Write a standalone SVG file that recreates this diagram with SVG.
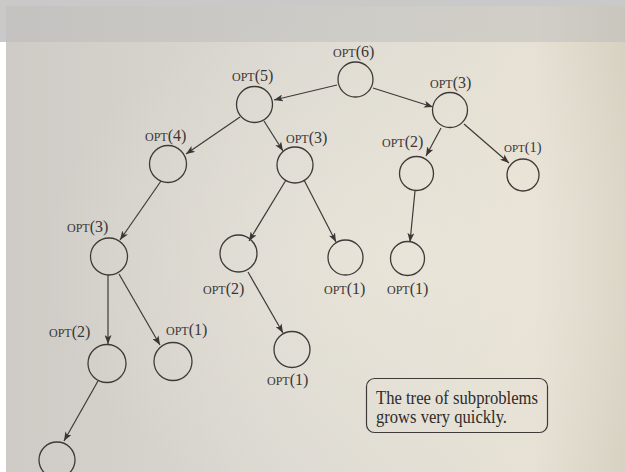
<svg xmlns="http://www.w3.org/2000/svg" width="625" height="472" viewBox="0 0 625 472">
  <defs>
    <linearGradient id="page" x1="0" y1="0" x2="1" y2="0">
      <stop offset="0" stop-color="#cecbc6"/>
      <stop offset="0.45" stop-color="#dcd9d2"/>
      <stop offset="0.85" stop-color="#e6e1d4"/>
      <stop offset="1" stop-color="#d8d2c3"/>
    </linearGradient>
    <radialGradient id="glow" cx="0.62" cy="0.55" r="0.55">
      <stop offset="0" stop-color="#efeadd" stop-opacity="0.55"/>
      <stop offset="1" stop-color="#efeadd" stop-opacity="0"/>
    </radialGradient>
    <marker id="arrow" viewBox="0 0 9 7" refX="9" refY="3.5" markerWidth="9" markerHeight="7" markerUnits="userSpaceOnUse" orient="auto">
      <path d="M0,0 L9,3.5 L0,7 L2.2,3.5 z" fill="#3a3634"/>
    </marker>
  </defs>
  <style>
    .node circle { fill: none; stroke: #3e3a37; stroke-width: 1.3; }
    .lbl { font-family: "Liberation Serif", "DejaVu Serif", serif; fill: #3a3634; }
    .sc { font-size: 12px; }
    .arg { font-size: 16px; }
    #edges line { stroke: #3e3a37; stroke-width: 1.2; marker-end: url(#arrow); }
    .note { font-family: "Liberation Serif", "DejaVu Serif", serif; font-size: 19px; fill: #2f2b29; }
  </style>

  <!-- page background -->
  <rect x="0" y="0" width="625" height="472" fill="url(#page)"/>
  <rect x="0" y="0" width="625" height="472" fill="url(#glow)"/>
  <!-- window frame: grey strip along the top, white margin on the left -->
  <rect x="0" y="6" width="625" height="36" fill="#b9b9b9" opacity="0.45"/>
  <rect x="0" y="0" width="625" height="6" fill="#c9c9c9"/>
  <rect x="0" y="0" width="6" height="42" fill="#c9c9c9"/>
  <rect x="0" y="42" width="6" height="430" fill="#ffffff"/>

  <!-- connectors -->
  <g id="edges">
    <line x1="337" y1="85" x2="274" y2="100"/>
    <line x1="373" y1="88" x2="433" y2="107"/>
    <line x1="240" y1="117" x2="186" y2="154"/>
    <line x1="264" y1="121" x2="283" y2="151"/>
    <line x1="441" y1="128" x2="426" y2="156"/>
    <line x1="464" y1="124" x2="509" y2="163"/>
    <line x1="161" y1="181" x2="120" y2="240"/>
    <line x1="286" y1="180" x2="249" y2="241"/>
    <line x1="304" y1="180" x2="336" y2="242"/>
    <line x1="415" y1="191" x2="410" y2="242"/>
    <line x1="108" y1="275" x2="108" y2="344"/>
    <line x1="119" y1="274" x2="160" y2="345"/>
    <line x1="248" y1="272" x2="283" y2="333"/>
    <line x1="98" y1="381" x2="64" y2="441"/>
  </g>

  <!-- nodes -->
  <g id="n6" class="node">
    <circle cx="355.5" cy="79.5" r="17.5"/>
    <text class="lbl" x="333" y="57"><tspan class="sc">OPT</tspan><tspan class="arg">(6)</tspan></text>
  </g>
  <g id="n5" class="node">
    <circle cx="254.5" cy="104.5" r="18"/>
    <text class="lbl" x="232" y="81"><tspan class="sc">OPT</tspan><tspan class="arg">(5)</tspan></text>
  </g>
  <g id="n3a" class="node">
    <circle cx="450" cy="110" r="17.5"/>
    <text class="lbl" x="430" y="88"><tspan class="sc">OPT</tspan><tspan class="arg">(3)</tspan></text>
  </g>
  <g id="n4" class="node">
    <circle cx="168" cy="164" r="18.5"/>
    <text class="lbl" x="145" y="141"><tspan class="sc">OPT</tspan><tspan class="arg">(4)</tspan></text>
  </g>
  <g id="n3b" class="node">
    <circle cx="295" cy="165" r="18"/>
    <text class="lbl" x="286" y="143"><tspan class="sc">OPT</tspan><tspan class="arg">(3)</tspan></text>
  </g>
  <g id="n2a" class="node">
    <circle cx="416.5" cy="173.5" r="17"/>
    <text class="lbl" x="382" y="147"><tspan class="sc">OPT</tspan><tspan class="arg">(2)</tspan></text>
  </g>
  <g id="n1a" class="node">
    <circle cx="523" cy="175" r="16"/>
    <text class="lbl" x="504" y="152"><tspan class="sc" style="font-size:11px">OPT</tspan><tspan class="arg" style="font-size:14.5px">(1)</tspan></text>
  </g>
  <g id="n3c" class="node">
    <circle cx="109" cy="256.5" r="18.5"/>
    <text class="lbl" x="67" y="232"><tspan class="sc">OPT</tspan><tspan class="arg">(3)</tspan></text>
  </g>
  <g id="n2b" class="node">
    <circle cx="238.5" cy="253.5" r="18.5"/>
    <text class="lbl" x="203" y="294"><tspan class="sc">OPT</tspan><tspan class="arg">(2)</tspan></text>
  </g>
  <g id="n1b" class="node">
    <circle cx="345.5" cy="257.5" r="17.5"/>
    <text class="lbl" x="324" y="294"><tspan class="sc">OPT</tspan><tspan class="arg">(1)</tspan></text>
  </g>
  <g id="n1c" class="node">
    <circle cx="407.5" cy="258.5" r="17"/>
    <text class="lbl" x="387" y="294"><tspan class="sc">OPT</tspan><tspan class="arg">(1)</tspan></text>
  </g>
  <g id="n2c" class="node">
    <circle cx="107" cy="363.5" r="19"/>
    <text class="lbl" x="49" y="337"><tspan class="sc">OPT</tspan><tspan class="arg">(2)</tspan></text>
  </g>
  <g id="n1d" class="node">
    <circle cx="173" cy="361.5" r="19"/>
    <text class="lbl" x="166" y="335"><tspan class="sc">OPT</tspan><tspan class="arg">(1)</tspan></text>
  </g>
  <g id="n1e" class="node">
    <circle cx="292" cy="349.5" r="18"/>
    <text class="lbl" x="267" y="385"><tspan class="sc">OPT</tspan><tspan class="arg">(1)</tspan></text>
  </g>
  <g id="n1f" class="node">
    <circle cx="57" cy="460" r="18"/>
  </g>

  <!-- side note -->
  <g id="note">
    <rect x="366.5" y="378.5" width="181" height="54" rx="8" ry="8" fill="none" stroke="#3e3a37" stroke-width="1.2"/>
    <text class="note" x="376" y="404" textLength="162" lengthAdjust="spacingAndGlyphs">The tree of subproblems</text>
    <text class="note" x="376" y="423" textLength="131" lengthAdjust="spacingAndGlyphs">grows very quickly.</text>
  </g>
</svg>
